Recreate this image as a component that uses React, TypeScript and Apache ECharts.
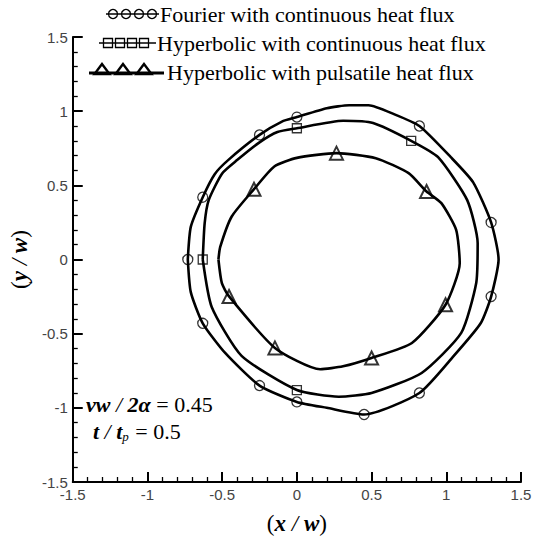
import React, { useEffect, useRef } from "react";
import * as echarts from "echarts";

const WIDTH = 535;
const HEIGHT = 541;

// Axis range and ticks (both axes share the same range)
const axisMin = -1.5;
const axisMax = 1.5;
const axisStep = 0.5;

// Fourier model, continuous heat flux (outer closed contour)
const fourierX = [-0.73, -0.71, -0.63, -0.55, -0.46, -0.25, -0.1, 0, 0.2, 0.35, 0.48, 0.65, 0.82, 1.03, 1.18, 1.3, 1.35, 1.3, 1.23, 1.05, 0.82, 0.45, 0.2, 0, -0.25, -0.48, -0.63, -0.71, -0.73];
const fourierY = [0, 0.22, 0.42, 0.575, 0.67, 0.84, 0.93, 0.96, 1.02, 1.04, 1.04, 0.98, 0.9, 0.69, 0.52, 0.25, 0, -0.25, -0.43, -0.65, -0.9, -1.045, -1.0, -0.96, -0.85, -0.63, -0.43, -0.22, 0];
const fourierMarkX = [-0.73, -0.63, -0.25, 0, 0.82, 1.3, 1.3, 0.82, 0.45, 0, -0.25, -0.63];
const fourierMarkY = [0, 0.42, 0.84, 0.96, 0.9, 0.25, -0.25, -0.9, -1.045, -0.96, -0.85, -0.43];

// Hyperbolic model, continuous heat flux (middle contour)
const hypContX = [-0.63, -0.617, -0.59, -0.5, -0.4, -0.25, -0.13, 0, 0.31, 0.51, 0.765, 0.945, 1.14, 1.21, 1.2, 1.1, 0.835, 0.5, 0.28, 0, -0.37, -0.57, -0.63];
const hypContY = [0, 0.245, 0.4, 0.58, 0.67, 0.79, 0.86, 0.885, 0.935, 0.92, 0.8, 0.69, 0.4, 0.11, -0.16, -0.495, -0.765, -0.9, -0.925, -0.88, -0.65, -0.32, 0];
const hypContMarkX = [-0.63, 0, 0.765, 0];
const hypContMarkY = [0, 0.885, 0.8, -0.88];

// Hyperbolic model, pulsatile heat flux (inner contour)
const hypPulsX = [-0.525, -0.513, -0.436, -0.287, -0.151, 0, 0.265, 0.528, 0.748, 0.868, 0.967, 1.066, 1.09, 0.995, 0.77, 0.5, 0.309, 0.156, -0.147, -0.454, -0.502, -0.525];
const hypPulsY = [0, 0.085, 0.29, 0.474, 0.627, 0.685, 0.717, 0.683, 0.582, 0.458, 0.38, 0.2, -0.025, -0.305, -0.563, -0.664, -0.72, -0.74, -0.596, -0.249, -0.16, 0];
const hypPulsMarkX = [0.265, -0.287, -0.454, -0.147, 0.5, 0.995, 0.868];
const hypPulsMarkY = [0.717, 0.474, -0.249, -0.596, -0.664, -0.305, 0.458];

const legendNames = [
  "Fourier with continuous heat flux",
  "Hyperbolic with continuous heat flux",
  "Hyperbolic with pulsatile heat flux",
];

const pairs = (xs: number[], ys: number[]) => xs.map((x, i) => [x, ys[i]]);

const SERIF = "'Liberation Serif', 'Times New Roman', serif";
const SANS = "'Liberation Sans', Arial, sans-serif";
const LEGEND_FONT = `22px ${SERIF}`;

function legendGraphics() {
  const els: any[] = [];
  const black = "#000";
  // entry 1: line with hollow circles
  els.push({ type: "polyline", shape: { points: [[106, 14], [159, 14]] }, style: { stroke: black, lineWidth: 1.5, fill: null } });
  [113, 126, 139, 152].forEach((cx) =>
    els.push({ type: "circle", shape: { cx, cy: 14, r: 4.5 }, style: { stroke: black, lineWidth: 1.3, fill: "none" } })
  );
  els.push({ type: "text", x: 160, y: 14, style: { text: legendNames[0], font: LEGEND_FONT, fill: black, align: "left", verticalAlign: "middle" } });
  // entry 2: line with hollow squares
  els.push({ type: "polyline", shape: { points: [[99, 43], [156, 43]] }, style: { stroke: black, lineWidth: 1.5, fill: null } });
  [108, 120, 132, 144].forEach((cx) =>
    els.push({ type: "rect", shape: { x: cx - 4.5, y: 38.5, width: 9, height: 9 }, style: { stroke: black, lineWidth: 1.3, fill: "none" } })
  );
  els.push({ type: "text", x: 157, y: 43, style: { text: legendNames[1], font: LEGEND_FONT, fill: black, align: "left", verticalAlign: "middle" } });
  // entry 3: heavier line with hollow triangles
  els.push({ type: "polyline", shape: { points: [[89, 73], [164, 73]] }, style: { stroke: black, lineWidth: 3, fill: null } });
  [102, 123, 144].forEach((cx) =>
    els.push({ type: "polygon", shape: { points: [[cx, 64], [cx - 7.5, 74], [cx + 7.5, 74]] }, style: { stroke: black, lineWidth: 2.4, fill: "none" } })
  );
  els.push({ type: "text", x: 167, y: 72, style: { text: legendNames[2], font: LEGEND_FONT, fill: black, align: "left", verticalAlign: "middle" } });
  return els;
}

const noteRich = {
  b: { fontFamily: SERIF, fontSize: 22, fontWeight: "bold", fontStyle: "italic", fill: "#000" },
  i: { fontFamily: SERIF, fontSize: 22, fontStyle: "italic", fill: "#000" },
  r: { fontFamily: SERIF, fontSize: 22, fill: "#000" },
  sub: { fontFamily: SERIF, fontSize: 13, fontStyle: "italic", fill: "#000", padding: [11, 1, 0, 0] },
};

const nameRich = {
  p: { fontFamily: SERIF, fontSize: 23, color: "#000" },
  v: { fontFamily: SERIF, fontSize: 23, fontWeight: "bold", fontStyle: "italic", color: "#000" },
  s: { fontFamily: SERIF, fontSize: 23, fontStyle: "italic", color: "#000" },
};

export default function App() {
  const ref = useRef<HTMLDivElement>(null);

  useEffect(() => {
    if (!ref.current) return;
    const chart = echarts.init(ref.current, null, { renderer: "svg" });

    const axisCommon = {
      type: "value" as const,
      min: axisMin,
      max: axisMax,
      interval: axisStep,
      splitLine: { show: false },
      axisLine: { show: true, onZero: false, lineStyle: { color: "#000", width: 2 } },
      axisTick: { show: true, inside: true, length: 10, lineStyle: { color: "#000", width: 2 } },
      minorTick: { show: true, splitNumber: 5, length: 5, lineStyle: { color: "#000", width: 1.3 } },
      axisLabel: { color: "#444", fontFamily: SANS, fontSize: 15, margin: 5 },
    };

    const lineStyle = { color: "#000", width: 2.6 };
    const markStyle = { color: "rgba(0,0,0,0)", borderColor: "#000", borderWidth: 1.3 };

    chart.setOption({
      animation: false,
      backgroundColor: "#fff",
      grid: { left: 65, right: 14, top: 37, bottom: 59, containLabel: false },
      xAxis: {
        ...axisCommon,
        position: "bottom",
        name: "{p|(}{v|x}{s| / }{v|w}{p|)}",
        nameLocation: "middle",
        nameGap: 30,
        nameTextStyle: { rich: nameRich },
      },
      yAxis: {
        ...axisCommon,
        position: "left",
        name: "{p|(}{v|y}{s| / }{v|w}{p|)}",
        nameLocation: "middle",
        nameRotate: 90,
        nameGap: 26,
        nameTextStyle: { rich: nameRich },
      },
      series: [
        { name: legendNames[0], type: "line", data: pairs(fourierX, fourierY), showSymbol: false, smooth: 0.2, lineStyle, z: 2 },
        { name: legendNames[1], type: "line", data: pairs(hypContX, hypContY), showSymbol: false, smooth: 0.2, lineStyle, z: 2 },
        { name: legendNames[2], type: "line", data: pairs(hypPulsX, hypPulsY), showSymbol: false, smooth: 0.2, lineStyle, z: 2 },
        { type: "scatter", data: pairs(fourierMarkX, fourierMarkY), symbol: "circle", symbolSize: 10, itemStyle: markStyle, z: 3 },
        { type: "scatter", data: pairs(hypContMarkX, hypContMarkY), symbol: "rect", symbolSize: 9, itemStyle: markStyle, z: 3 },
        { type: "scatter", data: pairs(hypPulsMarkX, hypPulsMarkY), symbol: "triangle", symbolSize: 13, itemStyle: { ...markStyle, borderWidth: 2 }, z: 3 },
      ],
      graphic: [
        ...legendGraphics(),
        { type: "text", x: 86, y: 404, style: { text: "{b|vw}{i| / }{b|2α}{r| = 0.45}", rich: noteRich, verticalAlign: "middle" } },
        { type: "text", x: 93, y: 431, style: { text: "{b|t}{i| / }{b|t}{sub|p}{r| = 0.5}", rich: noteRich, verticalAlign: "middle" } },
      ],
    });

    return () => chart.dispose();
  }, []);

  return (
    <div
      ref={ref}
      style={{ position: "fixed", left: 0, top: 0, width: WIDTH, height: HEIGHT, background: "#fff" }}
    />
  );
}
